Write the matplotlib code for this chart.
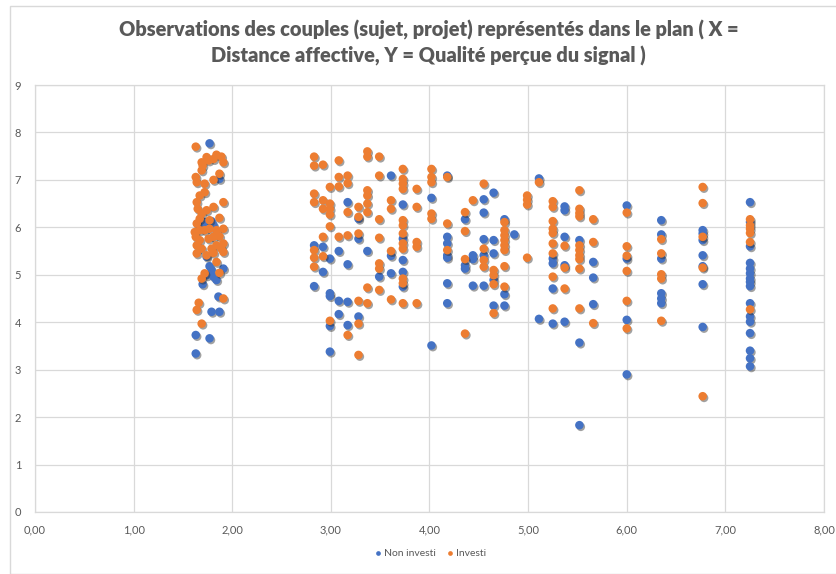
import matplotlib
matplotlib.use("Agg")
import matplotlib.pyplot as plt
import matplotlib.patheffects as pe
from matplotlib.patches import Rectangle

# ---- data -------------------------------------------------------------
title = ("Observations des couples (sujet, projet) représentés dans le plan ( X =\n"
         "Distance affective, Y = Qualité perçue du signal )")
series_names = ["Non investi", "Investi"]
x_ticks = [0, 1, 2, 3, 4, 5, 6, 7, 8]
x_tick_labels = ["0,00", "1,00", "2,00", "3,00", "4,00", "5,00", "6,00", "7,00", "8,00"]
y_ticks = [0, 1, 2, 3, 4, 5, 6, 7, 8, 9]

non_investi_x = [
    1.77, 1.87, 1.67, 1.72, 1.79, 1.81, 1.74, 1.77, 1.79, 1.74, 1.81, 1.91, 1.84, 1.70,
    1.86, 1.79, 1.87, 1.63, 1.77, 1.63,
    3.61, 3.17, 3.28, 3.73, 4.02, 3.73, 3.28, 2.83, 2.92, 2.99, 3.08, 3.37, 3.61, 3.17,
    3.49, 3.73, 3.73, 3.73, 3.61, 2.92, 2.83, 2.99, 2.99, 3.08, 3.17, 3.08, 3.28, 2.99,
    3.17, 2.99, 4.02,
    4.18, 4.65, 4.55, 4.36, 4.55, 4.76, 4.18, 4.18, 4.18, 4.18, 4.36, 4.36, 4.44, 4.44,
    4.55, 4.65, 4.55, 4.65, 4.65, 4.76, 4.76, 4.86, 4.18, 4.44, 4.55, 4.18, 4.65, 5.11,
    5.37, 5.37, 5.25, 5.25, 5.37, 5.37, 5.52, 5.66, 5.66, 5.25, 5.66, 5.11, 5.25, 5.37,
    5.52, 5.52,
    6.00, 6.00, 6.00, 6.00,
    6.35, 6.35, 6.35, 6.35, 6.35, 6.35,
    6.77, 6.77, 6.77, 6.77, 6.77, 6.77, 6.77,
    7.25, 7.25, 7.25, 7.25, 7.25, 7.25, 7.25, 7.25, 7.25, 7.25, 7.25, 7.25, 7.25, 7.25,
    7.25, 7.25,
]
non_investi_y = [
    7.77, 7.02, 6.04, 6.11, 6.13, 6.04, 5.38, 5.18, 5.10, 4.99, 4.96, 5.13, 4.89, 4.80,
    4.54, 4.22, 4.22, 3.73, 3.66, 3.34,
    7.09, 6.53, 6.18, 6.48, 6.62, 5.76, 5.76, 5.62, 5.59, 5.34, 5.50, 5.50, 5.40, 5.22,
    4.96, 5.31, 5.06, 4.75, 5.03, 5.06, 4.76, 4.61, 4.55, 4.45, 4.43, 4.17, 4.12, 3.92,
    3.94, 3.38, 3.51,
    7.09, 6.73, 6.59, 6.17, 6.31, 6.17, 5.80, 5.66, 5.41, 5.36, 5.20, 5.13, 5.41, 5.33,
    5.75, 5.73, 5.41, 5.45, 4.89, 4.59, 4.35, 5.85, 4.82, 4.77, 4.77, 4.40, 4.35, 7.03,
    6.44, 6.36, 5.34, 5.24, 5.80, 5.20, 5.73, 5.27, 4.94, 4.71, 4.38, 4.07, 3.97, 4.01,
    3.57, 1.83,
    6.46, 5.34, 4.05, 2.90,
    6.15, 5.85, 5.34, 4.61, 4.50, 4.40,
    5.94, 5.87, 5.73, 5.41, 5.18, 4.80, 3.90,
    6.53, 6.11, 5.60, 5.25, 5.13, 5.03, 4.92, 4.85, 4.76, 4.40, 4.12, 4.01, 3.77, 3.40,
    3.24, 3.07,
]

investi_x = [
    1.69, 1.74, 1.81, 1.84, 1.89, 1.91, 1.87, 1.81, 1.72, 1.63, 1.64, 1.69, 1.70, 1.76,
    1.67, 1.72, 1.64, 1.65, 1.69, 1.74, 1.81, 1.91, 1.87, 1.77, 1.67, 1.64, 1.62, 1.67,
    1.72, 1.77, 1.84, 1.91, 1.63, 1.67, 1.76, 1.81, 1.87, 1.91, 1.64, 1.69, 1.79, 1.84,
    1.89, 1.64, 1.74, 1.81, 1.91, 1.84, 1.72, 1.69, 1.87, 1.91, 1.66, 1.64, 1.69, 1.63,
    2.83, 2.83, 2.92, 3.08, 3.37, 3.37, 3.49, 3.73, 4.02, 3.49, 3.73, 3.73, 3.73, 3.87,
    4.02, 4.02, 3.08, 3.17, 3.17, 2.99, 3.08, 3.37, 3.37, 2.83, 2.83, 2.92, 2.92, 2.99,
    2.99, 2.99, 3.28, 3.37, 3.17, 3.28, 3.37, 3.61, 3.61, 3.87, 4.02, 4.02, 3.49, 2.99,
    3.73, 3.73, 3.73, 3.73, 3.73, 3.87, 3.87, 2.92, 3.08, 3.17, 3.28, 3.49, 2.83, 2.83,
    2.92, 3.61, 3.49, 3.49, 3.73, 3.73, 2.83, 3.28, 3.37, 3.37, 3.49, 3.61, 3.73, 3.87,
    2.99, 3.28, 3.17, 3.28,
    4.18, 4.55, 4.44, 4.36, 4.18, 4.36, 4.76, 4.18, 4.36, 4.55, 4.55, 4.55, 4.65, 4.65,
    4.65, 4.76, 4.76, 4.76, 4.76, 4.76, 4.76, 4.76, 4.65, 4.36, 4.99, 4.99, 4.99, 4.99,
    5.11, 5.25, 5.25, 5.52, 5.52, 5.52, 5.52, 5.66, 5.25, 5.25, 5.25, 5.25, 5.25, 5.37,
    5.37, 5.52, 5.52, 5.52, 5.52, 5.52, 5.66, 5.25, 5.37, 5.25, 5.52, 5.66,
    6.00, 6.00, 6.00, 6.00, 6.00, 6.00,
    6.35, 6.35, 6.35, 6.35, 6.35,
    6.77, 6.77, 6.77, 6.77, 6.77,
    7.25, 7.25, 7.25, 7.25, 7.25, 7.25,
]
investi_y = [
    7.37, 7.48, 7.44, 7.53, 7.49, 7.37, 7.13, 7.00, 6.92, 7.06, 6.95, 7.20, 7.30, 7.41,
    6.67, 6.74, 6.53, 6.39, 6.29, 6.36, 6.43, 6.53, 6.20, 6.15, 6.18, 6.08, 5.90, 5.94,
    5.94, 5.97, 5.94, 5.97, 5.80, 5.73, 5.76, 5.80, 5.81, 5.66, 5.62, 5.55, 5.55, 5.62,
    5.55, 5.45, 5.41, 5.46, 5.48, 5.27, 5.03, 4.92, 5.04, 4.50, 4.41, 4.26, 3.97, 7.70,
    7.49, 7.30, 7.32, 7.41, 7.60, 7.49, 7.49, 7.23, 7.23, 7.09, 7.02, 6.92, 6.81, 6.81,
    7.06, 6.95, 7.06, 7.09, 6.93, 6.85, 6.86, 6.78, 6.67, 6.71, 6.53, 6.57, 6.39, 6.50,
    6.39, 6.27, 6.43, 6.50, 6.32, 6.22, 6.32, 6.57, 6.39, 6.43, 6.29, 6.18, 6.17, 6.02,
    6.15, 6.04, 5.87, 5.66, 5.55, 5.69, 5.59, 5.80, 5.80, 5.83, 5.87, 5.78, 5.52, 5.36,
    5.39, 5.50, 5.24, 5.13, 4.92, 4.82, 5.17, 4.45, 4.40, 4.73, 4.68, 4.48, 4.40, 4.40,
    4.03, 3.97, 3.73, 3.31,
    7.06, 6.92, 6.57, 6.32, 6.08, 5.92, 6.11, 5.52, 5.33, 5.55, 5.31, 5.17, 5.10, 4.99,
    4.80, 5.94, 5.83, 5.73, 5.62, 5.52, 5.18, 4.75, 4.19, 3.76, 6.67, 6.58, 6.48, 5.36,
    6.95, 6.55, 6.43, 6.78, 6.39, 6.30, 6.23, 6.17, 6.13, 5.97, 5.88, 5.66, 5.45, 5.61,
    5.15, 5.62, 5.52, 5.41, 5.33, 5.13, 5.69, 4.96, 4.71, 4.29, 4.29, 3.98,
    6.31, 5.60, 5.40, 5.08, 4.45, 3.87,
    5.75, 5.45, 5.01, 4.92, 4.03,
    6.85, 6.51, 5.80, 5.15, 2.44,
    6.17, 6.04, 5.97, 5.88, 5.69, 4.27,
]

# ---- style --------------------------------------------------------------
BLUE = "#4472C4"
ORANGE = "#ED7D31"
GRID = "#D9D9D9"
TEXT = "#595959"
plt.rcParams["font.family"] = ["Lato", "DejaVu Sans"]

W, H = 837, 574
fig = plt.figure(figsize=(W / 100, H / 100), dpi=100)
fig.patch.set_facecolor("white")

# chart frame
fig.patches.append(Rectangle((10 / W, 0), 2.0, 1 - 6 / H, transform=fig.transFigure,
                             fill=False, edgecolor="#D9D9D9", linewidth=1.0))

left, right, top, bottom = 35, 824, 85, 512
ax = fig.add_axes([left / W, 1 - bottom / H, (right - left) / W, (bottom - top) / H])

shadow = [pe.SimplePatchShadow(offset=(1.0, -1.2), shadow_rgbFace="#303030", alpha=0.45),
          pe.Normal()]

ax.scatter(non_investi_x, non_investi_y, s=38, color=BLUE, linewidths=0,
           label=series_names[0], zorder=3, path_effects=shadow)
ax.scatter(investi_x, investi_y, s=38, color=ORANGE, linewidths=0,
           label=series_names[1], zorder=4, path_effects=shadow)

ax.set_xlim(0, 8)
ax.set_ylim(0, 9)
ax.set_xticks(x_ticks)
ax.set_xticklabels(x_tick_labels)
ax.set_yticks(y_ticks)
ax.grid(True, color=GRID, linewidth=0.9, zorder=0)
ax.set_axisbelow(True)
for sp in ax.spines.values():
    sp.set_color(GRID)
    sp.set_linewidth(0.9)
ax.tick_params(length=0, colors=TEXT, labelsize=8)
ax.tick_params(axis="x", pad=9)
ax.tick_params(axis="y", pad=10)

fig.text(0.512, 1 - 43 / H, title, ha="center", va="center", fontsize=14.4,
         fontweight="heavy", color=TEXT, linespacing=1.4)

leg = fig.legend(loc="center", bbox_to_anchor=(429.5 / W, 1 - 553 / H), ncol=2,
                 frameon=False, fontsize=7.5, handletextpad=0.1, columnspacing=0.8,
                 markerscale=0.55, handlelength=1.0, labelcolor=TEXT)
for h in leg.legend_handles:
    h.set_path_effects([])

fig.savefig("out.png", dpi=100, facecolor="white")
